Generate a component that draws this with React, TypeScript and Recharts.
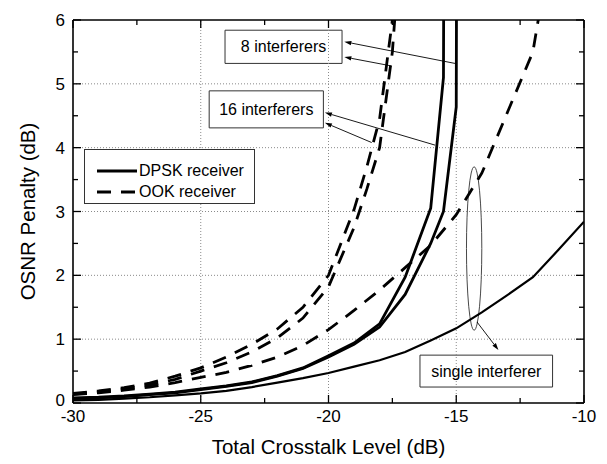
import React from "react";
import {
  LineChart,
  Line,
  XAxis,
  YAxis,
  ReferenceLine,
  ReferenceArea,
  Legend,
} from "recharts";

const FONT = "'Liberation Sans', Arial, Helvetica, sans-serif";

const X_TICKS = [-30, -27.5, -25, -22.5, -20, -17.5, -15, -12.5, -10];
const Y_TICKS = [0, 0.5, 1, 1.5, 2, 2.5, 3, 3.5, 4, 4.5, 5, 5.5, 6];
const X_GRID = [-25, -20, -15];
const Y_GRID = [1, 2, 3, 4, 5];

// [total crosstalk (dB), OSNR penalty (dB)]
const DPSK_SINGLE = [
  [-30, 0.04], [-29, 0.05], [-28, 0.07], [-27, 0.09], [-26, 0.12], [-25, 0.15],
  [-24, 0.19], [-23, 0.25], [-22, 0.32], [-21, 0.39], [-20, 0.47], [-19, 0.57],
  [-18, 0.67], [-17, 0.8], [-16, 0.98], [-15, 1.17], [-14, 1.42], [-13, 1.69],
  [-12, 1.97], [-11, 2.4], [-10, 2.84],
];
const DPSK_16 = [
  [-30, 0.08], [-29, 0.09], [-28, 0.11], [-27, 0.14], [-26, 0.17], [-25, 0.22],
  [-24, 0.27], [-23, 0.33], [-22, 0.43], [-21, 0.55], [-20, 0.74], [-19, 0.94],
  [-18, 1.24], [-17, 1.97], [-16, 3.05], [-15.5, 5.1], [-15.48, 8],
];
const DPSK_8 = [
  [-30, 0.07], [-29, 0.08], [-28, 0.1], [-27, 0.13], [-26, 0.16], [-25, 0.21],
  [-24, 0.26], [-23, 0.32], [-22, 0.42], [-21, 0.54], [-20, 0.72], [-19, 0.92],
  [-18, 1.19], [-17, 1.7], [-16, 2.5], [-15.5, 3.0], [-15, 4.64], [-14.98, 8],
];
const OOK_SINGLE = [
  [-30, 0.13], [-29, 0.16], [-28, 0.2], [-27, 0.25], [-26, 0.32], [-25, 0.4],
  [-24, 0.48], [-23, 0.59], [-22, 0.72], [-21, 0.9], [-20, 1.15], [-19, 1.45],
  [-18, 1.77], [-17, 2.12], [-16, 2.47], [-15, 2.95], [-14, 3.6], [-13, 4.55],
  [-12, 5.5], [-11.5, 6.7],
];
const OOK_16 = [
  [-30, 0.15], [-29, 0.19], [-28, 0.24], [-27, 0.31], [-26, 0.42], [-25, 0.55],
  [-24, 0.72], [-23, 0.92], [-22, 1.16], [-21, 1.5], [-20, 2.0], [-19, 3.03],
  [-18.5, 3.7], [-18, 4.45], [-17.5, 6.0], [-17.3, 7],
];
const OOK_8 = [
  [-30, 0.14], [-29, 0.17], [-28, 0.22], [-27, 0.28], [-26, 0.37], [-25, 0.5],
  [-24, 0.63], [-23, 0.8], [-22, 1.02], [-21, 1.33], [-20, 1.82], [-19, 2.75],
  [-18.5, 3.35], [-18, 4.0], [-17.5, 5.5], [-17.3, 6.6],
];

const LEGEND_ITEMS = [
  { label: "DPSK receiver", dash: undefined },
  { label: "OOK receiver", dash: "14 10" },
];

const toPoints = (rows: number[][]) => rows.map(([x, y]) => ({ x, y }));

const SERIES = [
  { key: "dpsk-single", rows: DPSK_SINGLE, width: 2.2, dash: undefined },
  { key: "dpsk-16", rows: DPSK_16, width: 2.8, dash: undefined },
  { key: "dpsk-8", rows: DPSK_8, width: 2.8, dash: undefined },
  { key: "ook-single", rows: OOK_SINGLE, width: 2.8, dash: "14 10" },
  { key: "ook-16", rows: OOK_16, width: 2.8, dash: "14 10" },
  { key: "ook-8", rows: OOK_8, width: 2.8, dash: "14 10" },
];

// label boxes: [x1, x2, y1, y2]
const BOX_8 = [-24.05, -19.47, 5.32, 5.84];
const BOX_16 = [-24.67, -20.2, 4.31, 4.89];
const BOX_SINGLE = [-16.42, -11.23, 0.25, 0.75];
// arrows: [fromX, fromY, toX, toY]
const ARROWS = [
  [-15.05, 5.32, -19.38, 5.66],
  [-17.53, 5.28, -19.38, 5.42],
  [-15.83, 4.04, -20.14, 4.55],
  [-18.31, 4.08, -20.14, 4.39],
  [-14.19, 1.27, -13.35, 0.83],
];
const ELLIPSE = [-14.6, -14.0, 1.14, 3.7];

const isMajorX = (v: number) => v % 5 === 0;
const isMajorY = (v: number) => v % 1 === 0;

const BottomTick = (props: any) => {
  const { x, y, payload } = props;
  const major = isMajorX(payload.value);
  return (
    <g>
      <line x1={x} y1={y} x2={x} y2={y - (major ? 8 : 5)} stroke="#000" strokeWidth={1.3} />
      {major && (
        <text x={x} y={y + 19} textAnchor="middle" fontSize={17} fontFamily={FONT} fill="#000">
          {payload.value}
        </text>
      )}
    </g>
  );
};

const TopTick = (props: any) => {
  const { x, y, payload } = props;
  const major = isMajorX(payload.value);
  return <line x1={x} y1={y} x2={x} y2={y + (major ? 8 : 5)} stroke="#000" strokeWidth={1.3} />;
};

const LeftTick = (props: any) => {
  const { x, y, payload } = props;
  const major = isMajorY(payload.value);
  // the zero label sits a little high so it clears the "-30" below it
  const lift = payload.value === 0 ? 3 : 0;
  return (
    <g>
      <line x1={x} y1={y} x2={x + (major ? 8 : 5)} y2={y} stroke="#000" strokeWidth={1.3} />
      {major && (
        <text x={x - 8} y={y - lift} dy="0.36em" textAnchor="end" fontSize={17} fontFamily={FONT} fill="#000">
          {payload.value}
        </text>
      )}
    </g>
  );
};

const RightTick = (props: any) => {
  const { x, y, payload } = props;
  const major = isMajorY(payload.value);
  return <line x1={x} y1={y} x2={x - (major ? 8 : 5)} y2={y} stroke="#000" strokeWidth={1.3} />;
};

const XTitle = (props: any) => {
  const { viewBox } = props;
  return (
    <text x={viewBox.x + viewBox.width / 2} y={viewBox.y + 51} textAnchor="middle" fontSize={20.5} fontFamily={FONT} fill="#000">
      Total Crosstalk Level (dB)
    </text>
  );
};

const YTitle = (props: any) => {
  const { viewBox } = props;
  const cx = viewBox.x + viewBox.width - 38;
  const cy = viewBox.y + viewBox.height / 2;
  return (
    <text x={cx} y={cy} transform={`rotate(-90, ${cx}, ${cy})`} textAnchor="middle" fontSize={20.5} fontFamily={FONT} fill="#000">
      OSNR Penalty (dB)
    </text>
  );
};

const arrowShape = (p: any) => {
  const { x1, y1, x2, y2 } = p;
  const ang = Math.atan2(y2 - y1, x2 - x1);
  const len = 7;
  const half = 2.2;
  const bx = x2 - len * Math.cos(ang);
  const by = y2 - len * Math.sin(ang);
  const nx = -Math.sin(ang) * half;
  const ny = Math.cos(ang) * half;
  return (
    <g>
      <line x1={x1} y1={y1} x2={bx} y2={by} stroke="#000" strokeWidth={0.9} />
      <polygon points={`${x2},${y2} ${bx + nx},${by + ny} ${bx - nx},${by - ny}`} fill="#000" />
    </g>
  );
};

const ellipseShape = (p: any) => (
  <ellipse
    cx={p.x + p.width / 2}
    cy={p.y + p.height / 2}
    rx={p.width / 2}
    ry={p.height / 2}
    fill="none"
    stroke="#333"
    strokeWidth={0.9}
  />
);

const LegendBox = () => (
  <div
    style={{
      width: 171,
      height: 55,
      boxSizing: "border-box",
      border: "1px solid #333",
      background: "#fff",
      paddingTop: 10,
      fontFamily: FONT,
      fontSize: 16,
      color: "#000",
    }}
  >
    {LEGEND_ITEMS.map((item) => (
      <div key={item.label} style={{ display: "flex", alignItems: "center", height: 21, paddingLeft: 12 }}>
        <svg width={40} height={6} style={{ display: "block" }}>
          <line x1={0} y1={3} x2={40} y2={3} stroke="#000" strokeWidth={2.8} strokeDasharray={item.dash} />
        </svg>
        <span style={{ marginLeft: 2, lineHeight: "21px" }}>{item.label}</span>
      </div>
    ))}
  </div>
);

const boxLabel = (text: string) => ({
  value: text,
  position: "center" as const,
  fill: "#000",
  fontSize: 16,
  fontFamily: FONT,
});

const axisLine = { stroke: "#000", strokeWidth: 1.6 };

export default function App() {
  return (
    <div style={{ position: "absolute", left: 0, top: 0, fontFamily: FONT, background: "#fff" }}>
      <LineChart width={607} height={464} margin={{ top: 19, right: 22, bottom: 60, left: 72 }}>
        <XAxis
          type="number"
          dataKey="x"
          domain={[-30, -10]}
          ticks={X_TICKS}
          interval={0}
          allowDataOverflow
          height={1}
          tickSize={0}
          tickMargin={0}
          tickLine={false}
          tick={<BottomTick />}
          axisLine={axisLine}
          label={<XTitle />}
        />
        <XAxis
          xAxisId="top"
          orientation="top"
          type="number"
          dataKey="x"
          domain={[-30, -10]}
          ticks={X_TICKS}
          interval={0}
          allowDataOverflow
          height={1}
          tickSize={0}
          tickMargin={0}
          tickLine={false}
          tick={<TopTick />}
          axisLine={axisLine}
        />
        <YAxis
          type="number"
          domain={[0, 6]}
          ticks={Y_TICKS}
          interval={0}
          allowDataOverflow
          width={1}
          tickSize={0}
          tickMargin={0}
          tickLine={false}
          tick={<LeftTick />}
          axisLine={axisLine}
          label={<YTitle />}
        />
        <YAxis
          yAxisId="right"
          orientation="right"
          type="number"
          domain={[0, 6]}
          ticks={Y_TICKS}
          interval={0}
          allowDataOverflow
          width={1}
          tickSize={0}
          tickMargin={0}
          tickLine={false}
          tick={<RightTick />}
          axisLine={axisLine}
        />

        {X_GRID.map((v) => (
          <ReferenceLine key={`gx${v}`} x={v} stroke="#8a8a8a" strokeWidth={1} strokeDasharray="1 2" />
        ))}
        {Y_GRID.map((v) => (
          <ReferenceLine key={`gy${v}`} y={v} stroke="#8a8a8a" strokeWidth={1} strokeDasharray="1 2" />
        ))}

        {SERIES.map((s) => (
          <Line
            key={s.key}
            data={toPoints(s.rows)}
            dataKey="y"
            type="linear"
            stroke="#000"
            strokeWidth={s.width}
            strokeDasharray={s.dash}
            dot={false}
            activeDot={false}
            legendType="none"
            isAnimationActive={false}
          />
        ))}

        <ReferenceArea x1={ELLIPSE[0]} x2={ELLIPSE[1]} y1={ELLIPSE[2]} y2={ELLIPSE[3]} shape={ellipseShape} />
        <ReferenceArea x1={BOX_8[0]} x2={BOX_8[1]} y1={BOX_8[2]} y2={BOX_8[3]} fill="#fff" fillOpacity={1} stroke="#333" strokeWidth={1} label={boxLabel("8 interferers")} />
        <ReferenceArea x1={BOX_16[0]} x2={BOX_16[1]} y1={BOX_16[2]} y2={BOX_16[3]} fill="#fff" fillOpacity={1} stroke="#333" strokeWidth={1} label={boxLabel("16 interferers")} />
        <ReferenceArea x1={BOX_SINGLE[0]} x2={BOX_SINGLE[1]} y1={BOX_SINGLE[2]} y2={BOX_SINGLE[3]} fill="#fff" fillOpacity={1} stroke="#333" strokeWidth={1} label={boxLabel("single interferer")} />
        {ARROWS.map(([fx, fy, tx, ty], i) => (
          <ReferenceLine
            key={`arrow${i}`}
            segment={[{ x: fx, y: fy }, { x: tx, y: ty }]}
            stroke="#000"
            shape={arrowShape}
          />
        ))}

        <Legend
          layout="vertical"
          align="center"
          verticalAlign="middle"
          content={<LegendBox />}
          wrapperStyle={{ left: 84, top: 149, width: 171, height: 55 }}
        />
      </LineChart>
    </div>
  );
}
